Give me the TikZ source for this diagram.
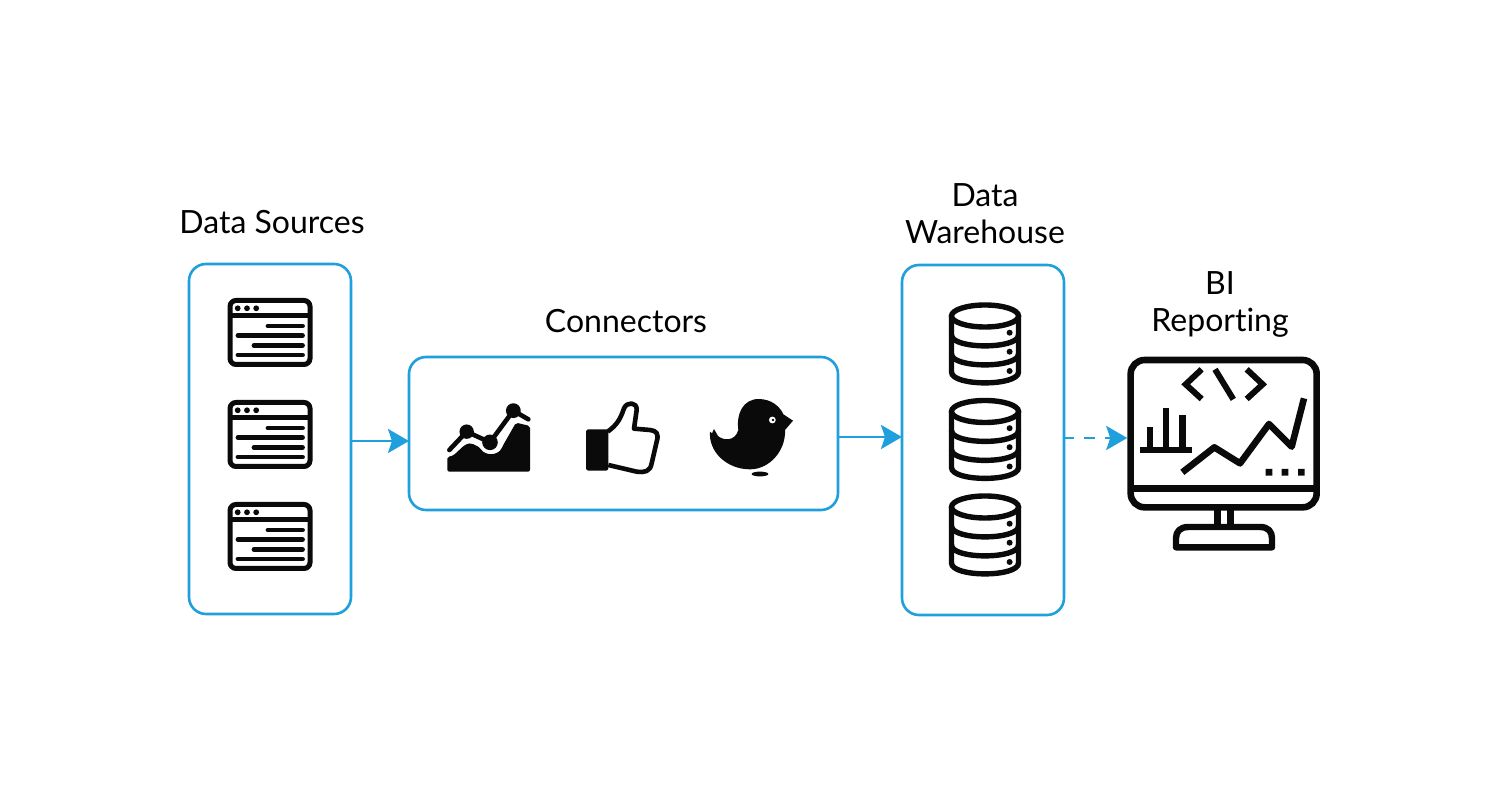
\documentclass[tikz,border=0pt]{standalone}
\usepackage{fontspec}
\setmainfont[Ligatures=CommonOff]{Lato}
\usetikzlibrary{arrows.meta}
\definecolor{flowblue}{HTML}{1F9FDC}
\definecolor{ink}{HTML}{0A0A0A}
\tikzset{
  panel/.style={draw=flowblue,line width=1.3pt,rounded corners=8.5pt,outer sep=0pt,inner sep=0pt,fill=white},
  flow/.style={draw=flowblue,line width=1.3pt,-{Stealth[length=10.5pt,width=12pt,inset=2pt]}},
  flowdash/.style={flow,dash pattern=on 5.2pt off 5pt},
  caption/.style={font=\fontsize{16}{18.5}\selectfont,align=center,text=black,inner sep=0pt},
  ghost/.style={inner sep=0pt,outer sep=0pt},
  zoomed/.style={x=0.16667pt,y=-0.16667pt},
  windowicon/.pic={
    \draw[ink,line width=2.5pt,rounded corners=3pt] (0,0) rectangle (80,64);
    \draw[ink,line width=2.5pt] (0,15.5) -- (80,15.5);
    \fill[ink] (7.7,7.8) circle[radius=1.45pt] (17,7.8) circle[radius=1.45pt] (26.2,7.8) circle[radius=1.45pt];
    \draw[ink,line width=2.4pt,line cap=round] (38,25.5) -- (72.5,25.5) (8,35.2) -- (72.5,35.2) (24,45) -- (72.5,45) (8,54.5) -- (72.5,54.5);
  },
  dbicon/.pic={
    \draw[ink,line width=2.7pt] (0,0) ellipse[x radius=16.75pt,y radius=5.5pt];
    \draw[ink,line width=2.7pt] (-33.5,0) -- (-33.5,56) .. controls (-33.5,70.5) and (33.5,70.5) .. (33.5,56) -- (33.5,0);
    \draw[ink,line width=2.7pt] (-33.5,19) .. controls (-33.5,33.5) and (33.5,33.5) .. (33.5,19);
    \draw[ink,line width=2.7pt] (-33.5,38) .. controls (-33.5,52.5) and (33.5,52.5) .. (33.5,38);
    \fill[ink] (24.6,16.7) circle[radius=1.5pt] (24.6,35.7) circle[radius=1.5pt] (24.6,55) circle[radius=1.5pt];
  }
}
\begin{document}
\begin{tikzpicture}[x=0.5pt,y=-0.5pt]
\useasboundingbox (0,0) rectangle (1500,795);

% panels
\node[panel,minimum width=81pt,minimum height=175pt] (sources) at (270,439) {};
\node[panel,minimum width=214.5pt,minimum height=76.5pt] (conn) at (623.5,433.5) {};
\node[panel,minimum width=81pt,minimum height=175pt] (warehouse) at (983,440) {};
\node[ghost,minimum width=96.5pt,minimum height=77pt] (monitor) at (1223.75,434) {};

% captions
\node[caption] (capsources) at (272,222) {Data Sources};
\node[caption] (capconn) at (626,321) {Connectors};
\node[caption] (capwarehouse) at (985,214) {Data\\Warehouse};
\node[caption] (capbi) at (1220,304) {BI\\Reporting};

% connectors
\coordinate (rowa) at (0,441);
\coordinate (rowb) at (0,437);
\coordinate (rowc) at (0,438);
\draw[flow] (sources.east |- rowa) -- (conn.west |- rowa);
\draw[flow] (conn.east |- rowb) -- (warehouse.west |- rowb);
\draw[flowdash] (warehouse.east |- rowc) -- (monitor.west |- rowc);

% data source windows
\pic at (230,300.5) {windowicon};
\pic at (230,402.5) {windowicon};
\pic at (230,504.5) {windowicon};

% databases
\pic at (985,316) {dbicon};
\pic at (985,411.5) {dbicon};
\pic at (985,507) {dbicon};

% connector icons, drawn in 3x crop coordinates
\begin{scope}[shift={(430,380)},zoomed]
  % chart
  \fill[ink,rounded corners=1pt] (52,275) -- (52,230) .. controls (80,228) and (95,192) .. (125,190)
    -- (150,203) .. controls (165,228) and (205,228) .. (218,198) -- (258,128) -- (300,138) -- (300,275) -- cycle;
  \draw[ink,line width=2.3pt,line cap=round,line join=round] (58,210) -- (110,155) -- (180,187) -- (250,92) -- (295,118);
  \fill[ink] (110,155) circle[radius=3.6pt] (250,92) circle[radius=3.7pt] (180,187) circle[radius=3.9pt];
  % thumb
  \fill[ink,rounded corners=1.2pt] (468,148) rectangle (535,272);
  \draw[ink,line width=2.3pt,line join=round] (533,155) .. controls (560,135) and (570,120) .. (582,85)
    .. controls (590,65) and (622,65) .. (620,90) -- (612,146) -- (660,150)
    .. controls (678,152) and (688,160) .. (680,185) -- (665,250)
    .. controls (660,275) and (645,278) .. (620,275) -- (535,255);
  % bird
  \fill[ink] (852,147) -- (864,168) .. controls (880,182) and (915,185) .. (925,150)
    .. controls (918,100) and (940,58) .. (985,57) .. controls (1025,57) and (1050,80) .. (1060,103)
    -- (1089,122) -- (1065,150) .. controls (1068,210) and (1020,268) .. (960,268)
    .. controls (890,268) and (835,215) .. (840,155) -- (846,160) -- cycle;
  \fill[white] (1027,120) circle[radius=1.7pt];
  \fill[ink] (1029,120) circle[radius=0.7pt];
  \fill[ink] (990,282) ellipse[x radius=4.2pt,y radius=1.2pt];
\end{scope}

% monitor, drawn in 3x crop coordinates
\begin{scope}[shift={(1120,350)},zoomed]
  \draw[ink,line width=3.3pt,rounded corners=7pt] (32,30) rectangle (590,472);
  \draw[ink,line width=3.2pt] (32,415) -- (590,415);
  \draw[ink,line width=3.2pt] (292,472) -- (292,530) (332,472) -- (332,530);
  \draw[ink,line width=3.2pt,line join=round] (168,592) -- (168,565) .. controls (168,545) and (180,531) .. (205,531) -- (420,531) .. controls (445,531) and (456,545) .. (456,565) -- (456,592) -- cycle;
  \draw[ink,line width=3pt,line cap=butt] (245,58) -- (197,103) -- (245,147) (285,58) -- (340,148) (380,58) -- (428,103) -- (380,147);
  \draw[ink,line width=3pt] (60,300) -- (215,300);
  \draw[ink,line width=3.2pt] (90,232) -- (90,300) (138,175) -- (138,300) (187,195) -- (187,300);
  \draw[ink,line width=3.3pt,line join=round] (187,367) -- (283,292) -- (360,340) -- (447,222) -- (515,290) -- (552,145);
  \fill[ink] (437,357) rectangle (457,377) (485,357) rectangle (505,377) (534,357) rectangle (554,377);
\end{scope}
\end{tikzpicture}
\end{document}
